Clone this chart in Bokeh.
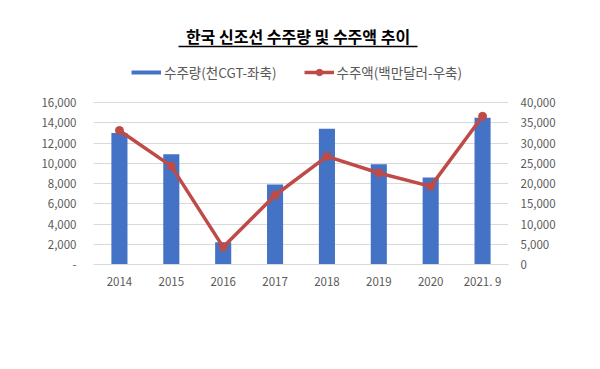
from bokeh.plotting import figure
from bokeh.models import (FactorRange, Range1d, LinearAxis, FixedTicker, NumeralTickFormatter,
                          Legend, LegendItem, Label, BoxAnnotation, ColumnDataSource)
from bokeh.embed import file_html
from bokeh.resources import INLINE

# ---- data ----
categories = ["2014", "2015", "2016", "2017", "2018", "2019", "2020", "2021. 9"]
volume_cgt = [13000, 10900, 2200, 7900, 13400, 9900, 8600, 14500]      # 천CGT, left axis
amount_musd = [33100, 24300, 4300, 17100, 26700, 22600, 19300, 36600]  # 백만달러, right axis
left_ticks = [0, 2000, 4000, 6000, 8000, 10000, 12000, 14000, 16000]
right_ticks = [0, 5000, 10000, 15000, 20000, 25000, 30000, 35000, 40000]
title_text = "한국 신조선 수주량 및 수주액 추이"
legend_bar = "수주량(천CGT-좌축)"
legend_line = "수주액(백만달러-우축)"

BLUE = "#4472C4"
RED = "#BE4B48"
GRAY_TXT = "#595959"
GRID = "#D9D9D9"
FONT = "Noto Sans CJK KR"

# The frame extends above the 16,000 gridline so that the title and legend sit inside it.
EXT = 244 / 162.0

src = ColumnDataSource(dict(cat=categories, vol=volume_cgt, amt=amount_musd))

p = figure(width=584, height=353, x_range=FactorRange(*categories, range_padding=0),
           y_range=Range1d(0, left_ticks[-1] * EXT), output_backend="svg", toolbar_location=None,
           min_border_left=93, min_border_right=76, min_border_top=20, min_border_bottom=89)
p.extra_y_ranges = {"amt": Range1d(0, right_ticks[-1] * EXT)}
p.outline_line_color = None
p.background_fill_color = "white"
p.border_fill_color = "white"

bars = p.vbar(x="cat", top="vol", width=0.31, source=src, fill_color=BLUE, line_color=None)
line = p.line(x="cat", y="amt", source=src, y_range_name="amt", line_color=RED, line_width=3.5)
pts = p.scatter(x="cat", y="amt", source=src, y_range_name="amt", size=8,
                fill_color=RED, line_color=RED)

# legend-only renderer for the thin blue key (no visible data)
key_src = ColumnDataSource(dict(cat=categories, y=[float("nan")] * len(categories)))
dummy = p.line(x="cat", y="y", source=key_src, line_color=BLUE, line_width=4)

# axes
la = p.yaxis[0]
la.ticker = FixedTicker(ticks=left_ticks)
la.formatter = NumeralTickFormatter(format="0,0")
la.major_label_overrides = {0: "-"}
ra = LinearAxis(y_range_name="amt", ticker=FixedTicker(ticks=right_ticks),
                formatter=NumeralTickFormatter(format="0,0"))
p.add_layout(ra, "right")
xa = p.xaxis[0]
for ax in (la, ra, xa):
    ax.major_tick_line_color = None
    ax.minor_tick_line_color = None
    ax.major_tick_out = 0
    ax.major_tick_in = 0
    ax.minor_tick_out = 0
    ax.major_label_text_font = FONT
    ax.major_label_text_font_size = "11.5px"
    ax.major_label_text_color = GRAY_TXT
la.axis_line_color = None
ra.axis_line_color = None
xa.axis_line_color = GRID
la.major_label_standoff = 17
ra.major_label_standoff = 12
xa.major_label_standoff = 8

p.xgrid.grid_line_color = None
p.ygrid.grid_line_color = GRID
p.ygrid.ticker = FixedTicker(ticks=left_ticks)

# legend
legend = Legend(items=[LegendItem(label=legend_bar, renderers=[dummy]),
                       LegendItem(label=legend_line, renderers=[line, pts])],
                orientation="horizontal", location=(38, 182),
                glyph_width=30, glyph_height=16, label_height=14, label_standoff=3,
                spacing=27, padding=0, margin=0, border_line_color=None,
                background_fill_alpha=0, label_text_font=FONT,
                label_text_font_size="13.5px", label_text_color=GRAY_TXT)
p.add_layout(legend, "center")

# title
title = Label(x=204.5, y=229, x_units="screen", y_units="screen", text=title_text,
              text_align="center", text_baseline="middle", text_font=FONT,
              text_font_size="16px", text_font_style="bold", text_color="black")
p.add_layout(title)
underline = BoxAnnotation(left=85, right=324, bottom=217.3, top=218.8,
                          left_units="screen", right_units="screen",
                          top_units="screen", bottom_units="screen",
                          fill_color="black", fill_alpha=1, line_color=None)
p.add_layout(underline)

open("out.html", "w").write(file_html(p, INLINE))
